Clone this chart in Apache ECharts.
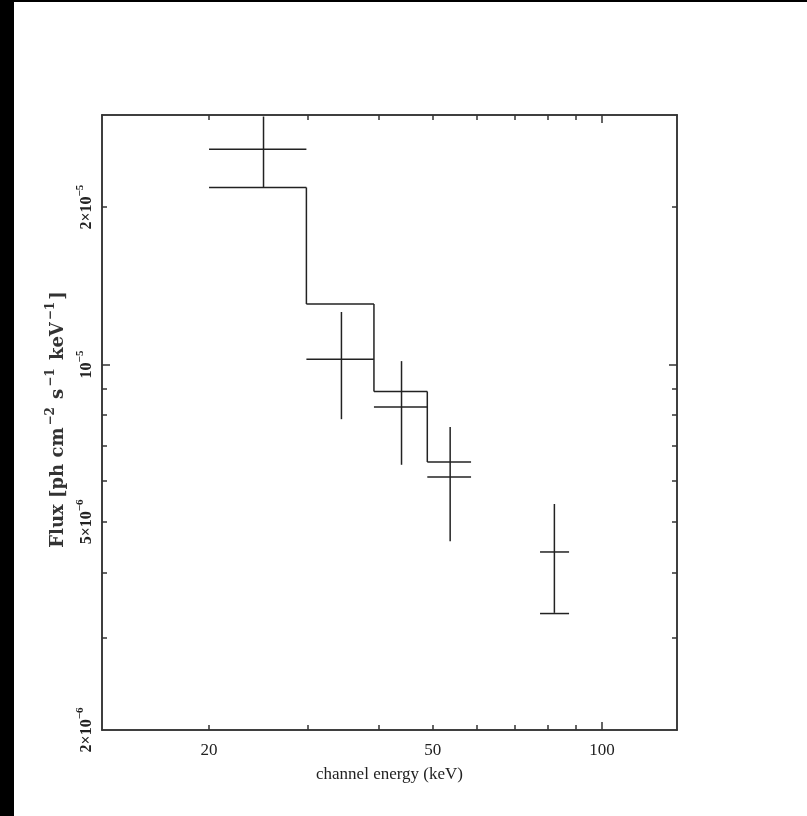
<!DOCTYPE html>
<html><head><meta charset="utf-8">
<script src="https://cdn.jsdelivr.net/npm/echarts@6/dist/echarts.min.js"></script>
<style>html,body{margin:0;padding:0;background:#fff}#c{width:807px;height:816px}</style>
</head><body><div id="c"></div>
<script>
// bins (keV)
const binLo = [20, 29.8, 39.3, 48.9, 77.6];
const binHi = [29.8, 39.3, 48.9, 58.5, 87.4];
const binCenter = [25, 34.4, 44.0, 53.7, 82.3];
// model flux (step histogram)
const modelFlux = [2.18e-5, 1.305e-5, 8.88e-6, 6.51e-6, 3.34e-6];
// measured flux and 1-sigma error
const dataFlux = [2.58e-5, 1.023e-5, 8.29e-6, 6.09e-6, 4.38e-6];
const dataErr = [4.0e-6, 2.37e-6, 1.86e-6, 1.5e-6, 1.03e-6];
// ticks
const xMinorTicks = [20, 30, 40, 50, 60, 70, 80, 90];
const xMajorTicks = [100];
const xTickLabels = [20, 50, 100];
const yMinorTicks = [2e-5, 9e-6, 8e-6, 7e-6, 6e-6, 5e-6, 4e-6, 3e-6];
const yMajorTicks = [1e-5];
const yTickLabels = [2e-5, 1e-5, 5e-6, 2e-6];

const xMin = 12.9, xMax = 136, yMin = 2e-6, yMax = 3e-5;
const INK = '#222';
const FONT = 'Liberation Serif';

function yFmt(v) {
  const e = Math.floor(Math.log10(v) + 1e-9);
  const m = Math.round(v / Math.pow(10, e));
  const ex = '\u2212' + String(-e);
  return (m === 1 ? '{m|10}' : '{m|' + m + '\u00d710}') + '{s|' + ex + '}';
}

const lineStyle = { color: '#333', width: 1.5 };
function xAx(pos, ticks, len, labels) {
  return {
    type: 'log', position: pos, min: xMin, max: xMax, logBase: 10,
    axisLine: { show: true, onZero: false, lineStyle },
    axisTick: { show: true, inside: true, length: len, customValues: ticks, lineStyle },
    axisLabel: labels ? { show: true, customValues: labels, margin: 12, color: INK, fontFamily: FONT, fontSize: 17 } : { show: false },
    splitLine: { show: false }, minorTick: { show: false }
  };
}
function yAx(pos, ticks, len, labels) {
  return {
    type: 'log', position: pos, min: yMin, max: yMax, logBase: 10,
    axisLine: { show: true, onZero: false, lineStyle },
    axisTick: { show: true, inside: true, length: len, customValues: ticks, lineStyle },
    axisLabel: labels ? {
      show: true, customValues: labels, rotate: 90, margin: 7, formatter: yFmt,
      rich: {
        m: { fontFamily: FONT, fontSize: 16, color: INK, fontWeight: 'bold', lineHeight: 20, verticalAlign: 'bottom' },
        s: { fontFamily: FONT, fontSize: 11, color: INK, fontWeight: 'bold', lineHeight: 20, verticalAlign: 'top' }
      }
    } : { show: false },
    splitLine: { show: false }, minorTick: { show: false }
  };
}

const xAxes = [xAx('bottom', xMinorTicks, 5, xTickLabels), xAx('top', xMinorTicks, 5, null),
               xAx('bottom', xMajorTicks, 8, null), xAx('top', xMajorTicks, 8, null)];
xAxes[0].name = 'channel energy (keV)';
xAxes[0].nameLocation = 'middle';
xAxes[0].nameGap = 36;
xAxes[0].nameTextStyle = { fontFamily: FONT, fontSize: 17, color: INK };

const yAxes = [yAx('left', yMinorTicks, 5, yTickLabels), yAx('right', yMinorTicks, 5, null),
               yAx('left', yMajorTicks, 8, null), yAx('right', yMajorTicks, 8, null)];
yAxes[0].name = '{b|Flux [ph cm}{s|\u22122}{b| s}{s|\u22121}{b| keV}{s|\u22121}{b|]}';
yAxes[0].nameLocation = 'middle';
yAxes[0].nameRotate = 90;
yAxes[0].nameGap = 25;
yAxes[0].nameTextStyle = {
  padding: [0, 0, 0, 6],
  rich: {
    b: { fontFamily: 'DejaVu Serif', fontSize: 18, fontWeight: 'bold', color: '#333', lineHeight: 22, verticalAlign: 'bottom' },
    s: { fontFamily: 'DejaVu Serif', fontSize: 12, fontWeight: 'bold', color: '#333', lineHeight: 22, verticalAlign: 'top', padding: [0, 2, 0, 2] }
  }
};

const modelData = binLo.map((lo, i) => [lo, binHi[i], modelFlux[i],
  (i + 1 < binLo.length && binLo[i + 1] === binHi[i]) ? modelFlux[i + 1] : null]);
const pointData = binCenter.map((c, i) => [c, dataFlux[i], binLo[i], binHi[i], dataErr[i]]);

function seg(a, b) {
  return { type: 'line', shape: { x1: a[0], y1: a[1], x2: b[0], y2: b[1] }, style: { stroke: INK, lineWidth: 1.5 } };
}

const chart = echarts.init(document.getElementById('c'), null, { renderer: 'canvas' });
chart.setOption({
  backgroundColor: '#fff',
  animation: false,
  grid: { left: 102, right: 130, top: 115, bottom: 86, containLabel: false },
  xAxis: xAxes,
  yAxis: yAxes,
  graphic: [
    { type: 'rect', left: 0, top: 0, shape: { width: 14, height: 816 }, style: { fill: '#000' }, z: 100 },
    { type: 'rect', left: 0, top: 0, shape: { width: 807, height: 2 }, style: { fill: '#000' }, z: 100 }
  ],
  series: [
    {
      type: 'custom', name: 'model', xAxisIndex: 0, yAxisIndex: 0,
      data: modelData, encode: { x: [0, 1], y: [2] },
      renderItem(params, api) {
        const lo = api.value(0), hi = api.value(1), m = api.value(2);
        const nxt = modelData[params.dataIndex][3];
        const children = [seg(api.coord([lo, m]), api.coord([hi, m]))];
        if (nxt !== null) children.push(seg(api.coord([hi, m]), api.coord([hi, nxt])));
        return { type: 'group', children };
      }
    },
    {
      type: 'custom', name: 'data', xAxisIndex: 0, yAxisIndex: 0,
      data: pointData, encode: { x: [0], y: [1] },
      renderItem(params, api) {
        const c = api.value(0), f = api.value(1), lo = api.value(2), hi = api.value(3), e = api.value(4);
        return { type: 'group', children: [
          seg(api.coord([lo, f]), api.coord([hi, f])),
          seg(api.coord([c, f + e]), api.coord([c, f - e]))
        ] };
      }
    }
  ]
});
</script></body></html>
